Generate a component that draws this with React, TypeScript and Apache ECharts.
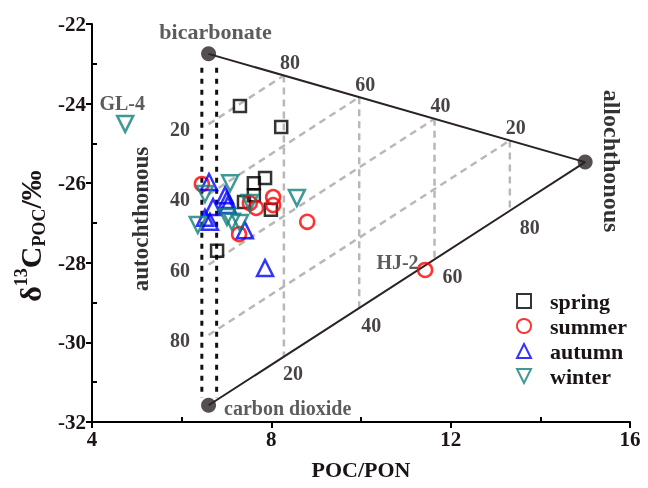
import React, { useEffect, useRef } from "react";
import * as echarts from "echarts";

// ---- data ----
const seasonNames = ["spring", "summer", "autumn", "winter"];
const spring = [
  [7.3, -24.06], [8.22, -24.59], [7.86, -25.87], [7.61, -26.0],
  [7.61, -26.3], [7.39, -26.47], [7.99, -26.67], [6.79, -27.7],
];
const summer = [
  [6.45, -26.02], [8.04, -26.35], [8.04, -26.55], [7.66, -26.62],
  [7.52, -26.5], [8.8, -26.97], [7.28, -27.28], [11.43, -28.18],
];
const autumn = [
  [6.61, -25.97], [6.97, -26.3], [7.01, -26.42], [7.03, -26.55],
  [6.7, -26.6], [6.52, -26.87], [6.63, -26.97], [7.41, -27.18], [7.86, -28.13],
];
const winter = [
  [7.08, -26.0], [6.52, -26.27], [7.52, -26.5], [8.57, -26.37],
  [6.36, -27.05], [7.01, -26.85], [7.12, -26.97], [7.3, -27.0], [4.74, -24.51],
];
const glPoint = [4.74, -24.51];
const hjPoint = [11.43, -28.18];

// end-member triangle
const bicarbonate = [6.6, -22.75];
const carbonDioxide = [6.6, -31.58];
const allochthonous = [15.0, -25.47];
const fractions = [0.2, 0.4, 0.6, 0.8];
const topLabels = ["80", "60", "40", "20"];
const leftLabels = ["20", "40", "60", "80"];
const bottomLabels = ["20", "40", "60", "80"];
const dottedX = [6.45, 6.78];
const dottedY = [-23.1, -31.4];

const xMin = 4, xMax = 16, xStep = 4;
const yMin = -32, yMax = -22, yStep = 2;

const FONT = '"Liberation Serif", "Times New Roman", serif';
const INK = "#1a1414";
const EDGE = "#2b2323";
const GRAY = "#b8b8b8";
const INV_TRIANGLE = "path://M0,0L10,0L5,10Z";

const lerp = (p: number[], q: number[], f: number) => [
  p[0] + (q[0] - p[0]) * f,
  p[1] + (q[1] - p[1]) * f,
];

const lineSeries = (data: number[][], style: any) => ({
  type: "line",
  data,
  symbol: "none",
  silent: true,
  lineStyle: style,
  z: 1,
});

const txt = (extra: any = {}) => ({
  show: true,
  fontFamily: FONT,
  fontWeight: "bold",
  fontSize: 20,
  color: INK,
  ...extra,
});

export default function App() {
  const ref = useRef<HTMLDivElement>(null);
  useEffect(() => {
    if (!ref.current) return;
    const chart = echarts.init(ref.current, undefined, { renderer: "svg" });

    const grayStyle = { color: GRAY, width: 2.5, type: [7, 5] };
    const grayLines: any[] = [];
    fractions.forEach((f) => {
      const top = lerp(bicarbonate, allochthonous, f);
      const bot = lerp(carbonDioxide, allochthonous, f);
      const left = lerp(bicarbonate, carbonDioxide, f);
      grayLines.push(lineSeries([top, bot], grayStyle));
      grayLines.push(lineSeries([left, top], grayStyle));
    });

    const dotted = dottedX.map((x) =>
      lineSeries([[x, dottedY[0]], [x, dottedY[1]]], { color: "#111", width: 3, type: [5, 6] })
    );

    const bottomDx = [9, 12, 18, 20];
    const annot: any[] = [];
    fractions.forEach((f, i) => {
      annot.push({
        value: lerp(bicarbonate, allochthonous, f),
        label: txt({ position: "top", distance: 3, offset: [6, 0], formatter: topLabels[i] }),
      });
      annot.push({
        value: lerp(bicarbonate, carbonDioxide, f),
        label: txt({ position: "left", distance: 18, offset: [0, 5], formatter: leftLabels[i] }),
      });
      annot.push({
        value: lerp(carbonDioxide, allochthonous, f),
        label: txt({ position: "bottom", distance: 6, offset: [bottomDx[i], 0], formatter: bottomLabels[i] }),
      });
    });
    annot.push({
      value: glPoint,
      label: txt({ position: "top", distance: 10, offset: [-3, 0], formatter: "GL-4", color: "#333" }),
    });
    annot.push({
      value: hjPoint,
      label: txt({ position: "left", distance: 6, offset: [0, -8], formatter: "HJ-2", color: "#333" }),
    });

    const seasonStyle = [
      { symbol: "rect", symbolSize: 12, color: "#000000" },
      { symbol: "circle", symbolSize: 14, color: "#ff0000" },
      { symbol: "triangle", symbolSize: 16, color: "#0000ff" },
      { symbol: INV_TRIANGLE, symbolSize: 16, color: "#12807a" },
    ];
    const seasonData = [spring, summer, autumn, winter];
    const seasons = seasonNames.map((name, i) => ({
      type: "scatter",
      name,
      data: seasonData[i],
      symbol: seasonStyle[i].symbol,
      symbolSize: seasonStyle[i].symbolSize,
      itemStyle: { color: "transparent", borderColor: seasonStyle[i].color, borderWidth: 2.5 },
      emphasis: { disabled: true },
      z: 5,
    }));

    const axisCommon = {
      axisLine: { show: true, onZero: false, lineStyle: { color: "#000", width: 2 } },
      splitLine: { show: false },
      axisLabel: { fontFamily: FONT, fontWeight: "bold", fontSize: 21, color: INK, margin: 6 },
    };

    chart.setOption({
      animation: false,
      grid: { left: 92, right: 18, top: 24, bottom: 66, containLabel: false },
      legend: {
        data: seasonNames,
        orient: "vertical",
        left: 511,
        top: 285,
        itemWidth: 14,
        itemHeight: 14,
        itemGap: 3,
        selectedMode: false,
        textStyle: { fontFamily: FONT, fontWeight: "bold", fontSize: 22, color: INK, lineHeight: 20, padding: [0, 0, 0, 14] },
      },
      xAxis: [
        {
          type: "value", min: xMin, max: xMax, interval: xStep,
          ...axisCommon,
          axisTick: { show: true, inside: false, length: 6, lineStyle: { width: 2, color: "#000" } },
          minorTick: { show: false },
          name: "POC/PON",
          nameLocation: "middle",
          nameGap: 36,
          nameTextStyle: { fontFamily: FONT, fontWeight: "bold", fontSize: 22, color: INK },
        },
        {
          type: "value", min: xMin, max: xMax, interval: xStep, position: "bottom",
          axisLine: { show: false, onZero: false },
          axisLabel: { show: false },
          splitLine: { show: false },
          axisTick: { show: false, inside: true },
          minorTick: { show: true, splitNumber: 2, length: 5, lineStyle: { width: 2, color: "#000" } },
        },
      ],
      yAxis: [
        {
          type: "value", min: yMin, max: yMax, interval: yStep,
          ...axisCommon,
          axisTick: { show: true, inside: false, length: 6, lineStyle: { width: 2, color: "#000" } },
          minorTick: { show: false },
        },
        {
          type: "value", min: yMin, max: yMax, interval: yStep, position: "left",
          axisLine: { show: false, onZero: false },
          axisLabel: { show: false },
          splitLine: { show: false },
          axisTick: { show: false, inside: true },
          minorTick: { show: true, splitNumber: 2, length: 5, lineStyle: { width: 2, color: "#000" } },
        },
      ],
      series: [
        ...grayLines,
        ...dotted,
        lineSeries([bicarbonate, allochthonous, carbonDioxide], { color: EDGE, width: 2 }),
        {
          type: "scatter",
          data: [
            { value: bicarbonate, label: txt({ position: "top", distance: 4, offset: [7, 0], formatter: "bicarbonate", color: "#333", fontSize: 22 }) },
            { value: carbonDioxide, label: txt({ position: "right", distance: 8, offset: [0, 3], formatter: "carbon dioxide", color: "#333", fontSize: 20 }) },
            { value: allochthonous },
          ],
          symbol: "circle",
          symbolSize: 15,
          itemStyle: { color: EDGE },
          silent: true,
          z: 4,
        },
        {
          type: "scatter",
          data: annot,
          symbolSize: 1,
          itemStyle: { color: "transparent" },
          silent: true,
          z: 3,
        },
        ...seasons,
      ],
      graphic: [
        {
          type: "text",
          x: 30,
          y: 236,
          rotation: Math.PI / 2,
          style: {
            text: "{a|δ}{s|13}{a|C}{b|POC}{a|/‰}",
            align: "center",
            verticalAlign: "middle",
            fill: INK,
            rich: {
              a: { fontFamily: FONT, fontWeight: "bold", fontSize: 30, fill: INK, lineHeight: 36, verticalAlign: "middle" },
              s: { fontFamily: FONT, fontWeight: "bold", fontSize: 18, fill: INK, verticalAlign: "top", lineHeight: 18 },
              b: { fontFamily: FONT, fontWeight: "bold", fontSize: 18, fill: INK, verticalAlign: "bottom", lineHeight: 18 },
            },
          },
        },
        {
          type: "text",
          x: 140,
          y: 219,
          rotation: Math.PI / 2,
          style: { text: "autochthonous", align: "center", verticalAlign: "middle", fill: "#333", fontFamily: FONT, fontWeight: "bold", fontSize: 23 },
        },
        {
          type: "text",
          x: 612,
          y: 161,
          rotation: -Math.PI / 2,
          style: { text: "allochthonous", align: "center", verticalAlign: "middle", fill: "#333", fontFamily: FONT, fontWeight: "bold", fontSize: 24 },
        },
      ],
    });
    return () => chart.dispose();
  }, []);
  return <div ref={ref} style={{ position: "fixed", left: 0, top: 0, width: 648, height: 488 }} />;
}
